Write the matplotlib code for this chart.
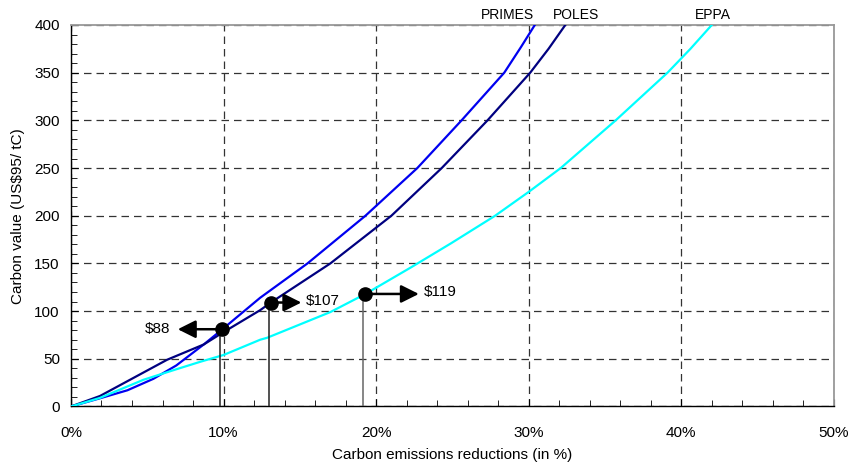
import matplotlib.pyplot as plt
from matplotlib.ticker import MultipleLocator, FuncFormatter

plt.rcParams['font.family'] = ['Liberation Sans', 'DejaVu Sans']

# Marginal abatement curves (x in %, y in US$95/tC)
primes_x = [0, 1.9, 3.7, 5.4, 6.9, 8.7, 10.0, 12.4, 15.5, 19.3, 22.7, 25.6, 28.4, 29.5, 30.4]
primes_y = [0, 8.6, 17, 29, 43, 65, 82, 114, 150, 200, 250, 300, 350, 377, 400]

poles_x = [0, 1.9, 6.3, 8.7, 10.0, 12.4, 13.1, 17.0, 21.0, 24.3, 27.3, 30.1, 31.3, 32.4]
poles_y = [0, 11, 49, 65, 78, 101, 109, 150, 200, 250, 300, 350, 375, 400]

eppa_x = [0, 1.9, 4.75, 6.9, 8.5, 10.0, 12.4, 12.85, 17.0, 19.3, 22.3, 24.9,
          27.8, 30.0, 32.1, 35.7, 37.4, 39.1, 40.6, 42.0]
eppa_y = [0, 9, 28, 39, 47, 54, 70, 72, 99, 118, 146, 171,
          200, 225, 250, 300, 325, 350, 375, 400]

# Highlighted points: position, label, arrow end
point_x = [9.9, 13.1, 19.26]
point_y = [81, 109, 118]
point_labels = ['$88', '$107', '$119']
arrow_end_x = [7.0, 15.1, 22.8]
drop_x = [9.8, 13.0, 19.15]
drop_colors = ['#222222', '#222222', '#666666']

series_names = ['PRIMES', 'POLES', 'EPPA']
series_label_x = [28.6, 33.1, 42.1]

fig = plt.figure(figsize=(8.5, 4.66), dpi=100)
ax = fig.add_axes([0.0835, 0.1277, 0.8975, 0.8187])

ax.plot(primes_x, primes_y, color='#0000F0', lw=1.6, zorder=3)
ax.plot(poles_x, poles_y, color='#000080', lw=1.6, zorder=3)
ax.plot(eppa_x, eppa_y, color='#00FFFF', lw=1.6, zorder=3)

for px, py, lab, ex, dx, dc in zip(point_x, point_y, point_labels,
                                    arrow_end_x, drop_x, drop_colors):
    ax.plot([dx, dx], [0, py], color=dc, lw=1.1, zorder=4)
    ax.annotate('', xy=(ex, py), xytext=(px, py),
                arrowprops=dict(arrowstyle='-|>,head_length=1.08,head_width=0.54',
                                color='black', lw=1.8, shrinkA=0, shrinkB=0),
                zorder=5)
    ax.plot(px, py, 'o', color='black', ms=9.5, zorder=6)
    if ex < px:
        ax.text(ex - 0.5, py, lab, ha='right', va='center', fontsize=11)
    else:
        ax.text(ex + 0.3, py + 2, lab, ha='left', va='center', fontsize=11)

for name, lx in zip(series_names, series_label_x):
    ax.text(lx, 403, name, ha='center', va='bottom', fontsize=10)

ax.set_xlim(0, 50)
ax.set_ylim(0, 400)
ax.xaxis.set_major_locator(MultipleLocator(10))
ax.xaxis.set_minor_locator(MultipleLocator(2))
ax.yaxis.set_major_locator(MultipleLocator(50))
ax.yaxis.set_minor_locator(MultipleLocator(10))
ax.xaxis.set_major_formatter(FuncFormatter(lambda v, p: f'{v:.0f}%'))

ax.grid(which='major', color='#333333', ls=(0, (6, 4)), lw=0.9)
ax.tick_params(which='both', direction='in', top=False, right=False,
               labelsize=11)
ax.tick_params(which='major', length=5)
ax.tick_params(which='minor', length=4)
ax.tick_params(axis='x', pad=14)
ax.tick_params(axis='y', pad=8)

for s in ['top', 'right']:
    ax.spines[s].set_color('#999999')
    ax.spines[s].set_linestyle((0, (5, 1)))
    ax.spines[s].set_linewidth(1.3)
for s in ['bottom', 'left']:
    ax.spines[s].set_linewidth(1.0)

ax.set_xlabel('Carbon emissions reductions (in %)', fontsize=11, labelpad=5.5)
ax.set_ylabel('Carbon value (US$95/ tC)', fontsize=11, labelpad=7)

fig.savefig('out.png', dpi=100)
